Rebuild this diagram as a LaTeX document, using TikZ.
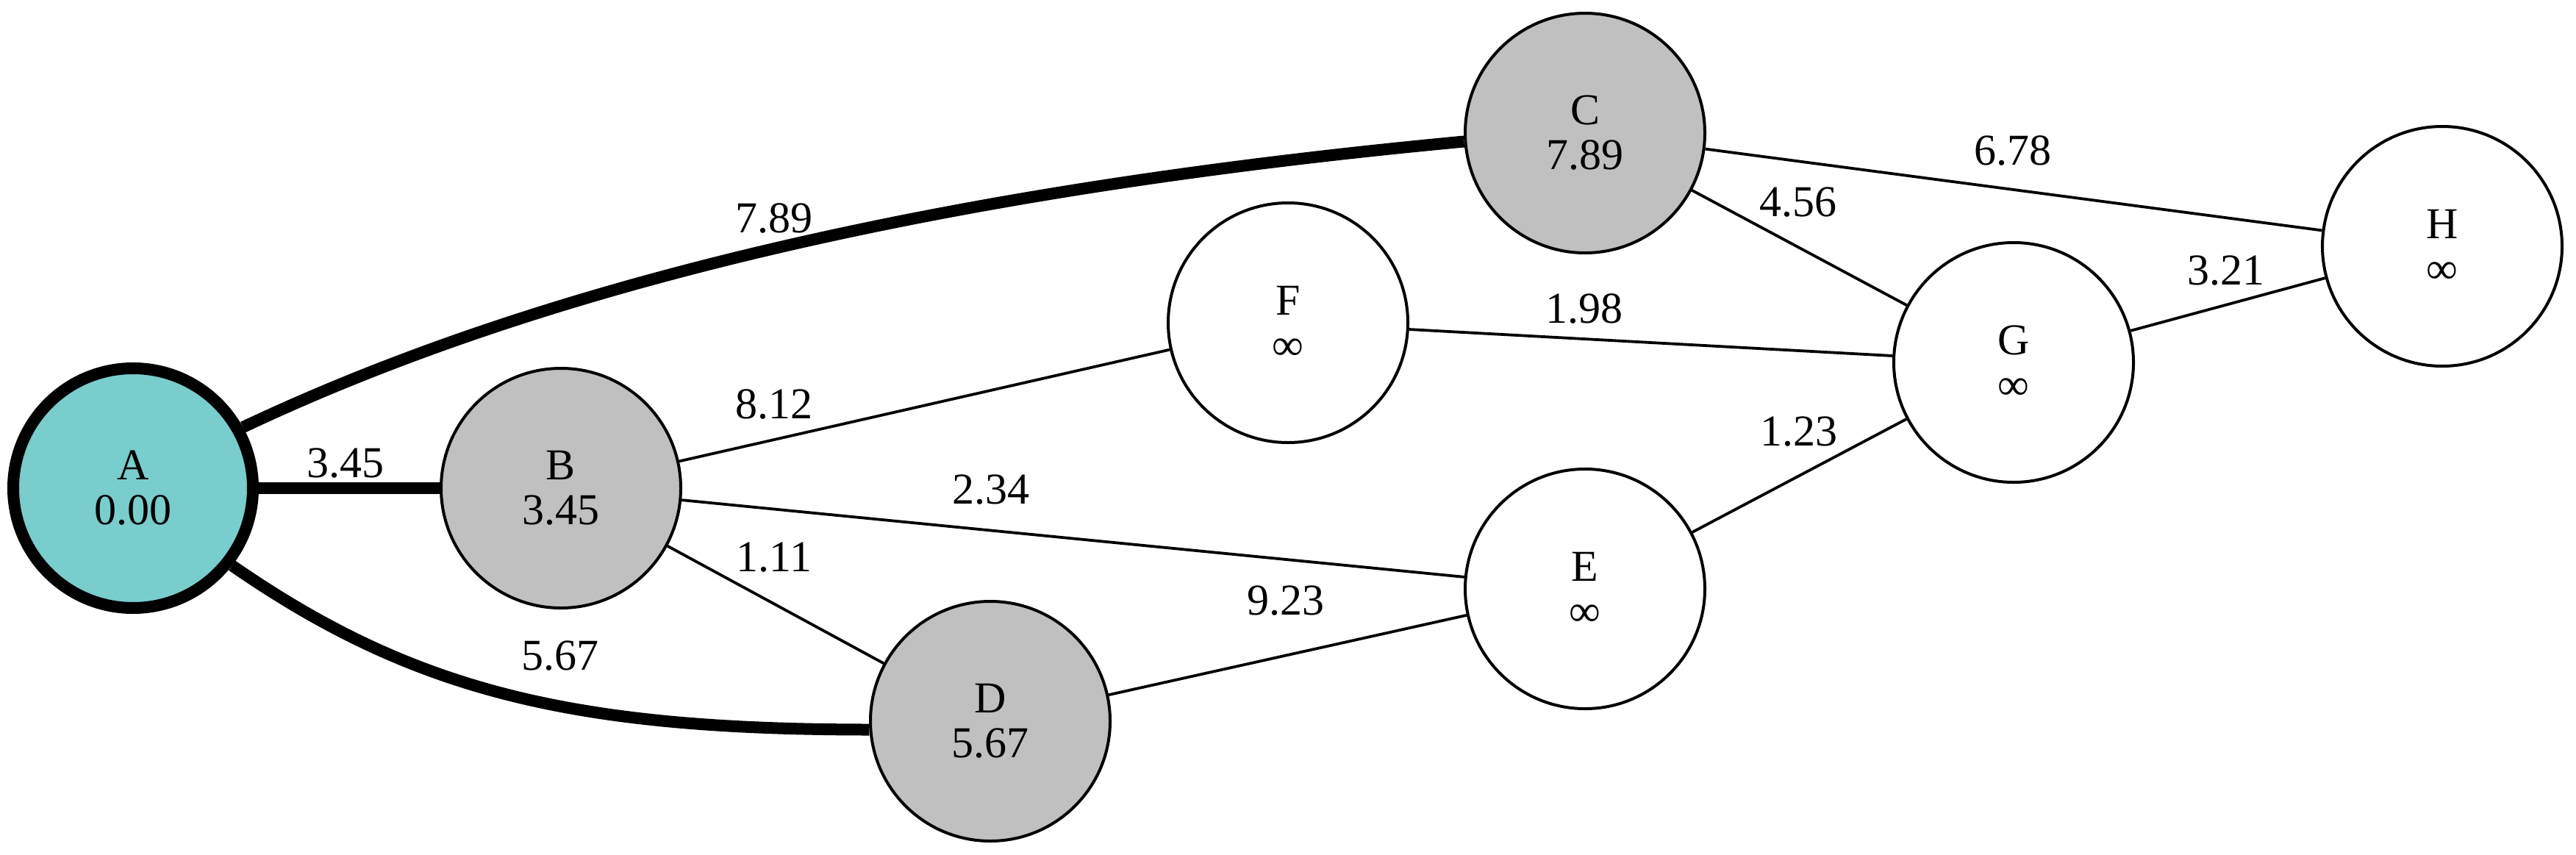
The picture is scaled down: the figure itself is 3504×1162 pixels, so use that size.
\documentclass[tikz,border=0pt]{standalone}
\usepackage{fontspec}
\setmainfont{Liberation Serif}
\definecolor{tealfill}{HTML}{79CDCD}
\definecolor{grayfill}{HTML}{C0C0C0}
\begin{document}
\begin{tikzpicture}[x=0.5pt,y=-0.5pt,
  vnode/.style={circle,draw=black,line width=2pt,minimum size=163pt,inner sep=0pt,
    align=center,font=\fontsize{30}{30.5}\selectfont},
  visited/.style={vnode,fill=grayfill},
  source/.style={vnode,fill=tealfill,line width=8pt},
  unvisited/.style={vnode,fill=white},
  elabel/.style={inner sep=0pt,font=\fontsize{30}{30.5}\selectfont},
  thinedge/.style={line width=1.9pt},
  thickedge/.style={line width=8pt}
]
\useasboundingbox (0,0) rectangle (3504,1162);
% nodes
\node[source]    (A) at (181,664)  {A\\0.00};
\node[visited]   (B) at (763,664)  {B\\3.45};
\node[visited]   (C) at (2156,181) {C\\7.89};
\node[visited]   (D) at (1347,981) {D\\5.67};
\node[unvisited] (E) at (2156,801) {E\\∞};
\node[unvisited] (F) at (1752,439) {F\\∞};
\node[unvisited] (G) at (2739,493) {G\\∞};
\node[unvisited] (H) at (3322,335) {H\\∞};
% thick edges
\draw[thickedge] (A) -- (B);
\draw[thickedge] (A.29) .. controls (825,347) and (1443,244) .. (C.184);
\draw[thickedge] (A.-38) .. controls (565,942) and (783,992) .. (D.184);
% thin edges
\draw[thinedge] (B) -- (F);
\draw[thinedge] (B) -- (E);
\draw[thinedge] (B) -- (D);
\draw[thinedge] (D) -- (E);
\draw[thinedge] (F) -- (G);
\draw[thinedge] (E) -- (G);
\draw[thinedge] (C) -- (G);
\draw[thinedge] (C) -- (H);
\draw[thinedge] (G) -- (H);
% edge labels
\node[elabel] (lab) at (470,630)  {3.45};
\node[elabel] (lac) at (1053,297) {7.89};
\node[elabel] (lad) at (762,892)  {5.67};
\node[elabel] (lbf) at (1053,550) {8.12};
\node[elabel] (lbe) at (1348,666) {2.34};
\node[elabel] (lbd) at (1053,758) {1.11};
\node[elabel] (lde) at (1749,817) {9.23};
\node[elabel] (lfg) at (2155,420) {1.98};
\node[elabel] (leg) at (2447,587) {1.23};
\node[elabel] (lcg) at (2446,275) {4.56};
\node[elabel] (lch) at (2738,205) {6.78};
\node[elabel] (lgh) at (3028,368) {3.21};
\end{tikzpicture}
\end{document}
